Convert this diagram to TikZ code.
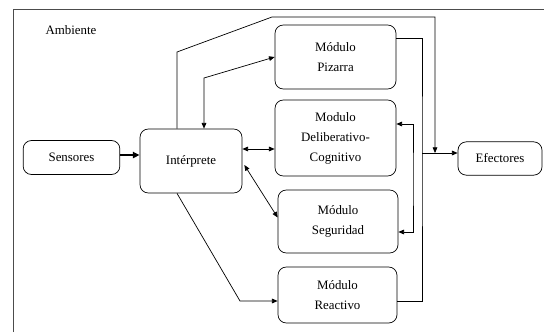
\documentclass[tikz,border=0pt]{standalone}
\usepackage{fontspec}
\setmainfont{Liberation Serif}
\usetikzlibrary{arrows.meta,positioning,calc}

\begin{document}
\begin{tikzpicture}[x=0.03cm, y=-0.03cm, font=\fontsize{11}{17}\selectfont,
  blk/.style={draw, line width=0.6pt, rounded corners=2.5mm, align=center, inner sep=1pt},
  arr/.style={-{Triangle[length=1.7mm,width=1.4mm]}, line width=0.6pt},
  darr/.style={{Triangle[length=1.7mm,width=1.4mm]}-{Triangle[length=1.7mm,width=1.4mm]}, line width=0.6pt},
  ln/.style={line width=0.6pt}]
\useasboundingbox (0,0) rectangle (544,332);
% ambiente frame
\draw[black!70, line width=0.7pt] (13,332) -- (13,9) -- (544,9);
\node (amb) at (71,30) {Ambiente};
% boxes
\node[blk, minimum width=2.9cm, minimum height=1.02cm] (sens) at (71.5,157.5) {Sensores};
\node[blk, minimum width=3.06cm, minimum height=1.92cm] (interp) at (191,161) {Intérprete};
\node[blk, minimum width=3.63cm, minimum height=1.92cm] (pizarra) at (335.5,57) {Módulo\\Pizarra};
\node[blk, minimum width=3.63cm, minimum height=2.28cm] (delib) at (335.5,138) {Modulo\\Deliberativo-\\Cognitivo};
\node[blk, minimum width=3.6cm, minimum height=1.89cm] (segur) at (338,221.5) {Módulo\\Seguridad};
\node[blk, minimum width=3.57cm, minimum height=1.68cm] (react) at (337.5,295) {Módulo\\Reactivo};
\node[blk, minimum width=2.52cm, minimum height=1.0cm] (efect) at (500,158.5) {Efectores};
% bend points
\coordinate (top1) at (177,52);
\coordinate (top2) at (272,17);
\coordinate (jn) at (435,153);
\coordinate (bus) at (422,153);
\coordinate (lp) at (413,180);
\coordinate (ip) at (204,78);
\coordinate (rc) at (240,301);
% connectors
\draw[-{Triangle[length=2mm,width=1.8mm]}, line width=1.4pt] ($(sens.east)+(0,-2.5)$) coordinate (se) -- (se -| interp.west);
\draw[arr] (interp.north -| top1) -- (top1) -- (top2) -| (jn);
\draw[ln] (pizarra.north east) ++(0,14) -| (bus) |- ($(react.east)+(0,6)$);
\draw[arr] (bus) -- (bus -| efect.west);
\draw[darr] ($(delib.east)+(0,-14)$) -| (lp) |- ($(segur.east)+(0,10.5)$);
\draw[darr] (interp.north -| ip) -- (ip) -- (pizarra.west);
\draw[darr] ($(interp.east)+(0,-12)$) coordinate (ie) -- (ie -| delib.west);
\draw[darr] ($(interp.east)+(2,4)$) -- ($(segur.west)+(0,-4)$);
\draw[arr] (interp.south -| top1) -- (rc) -- (rc -| react.west);
\end{tikzpicture}
\end{document}
